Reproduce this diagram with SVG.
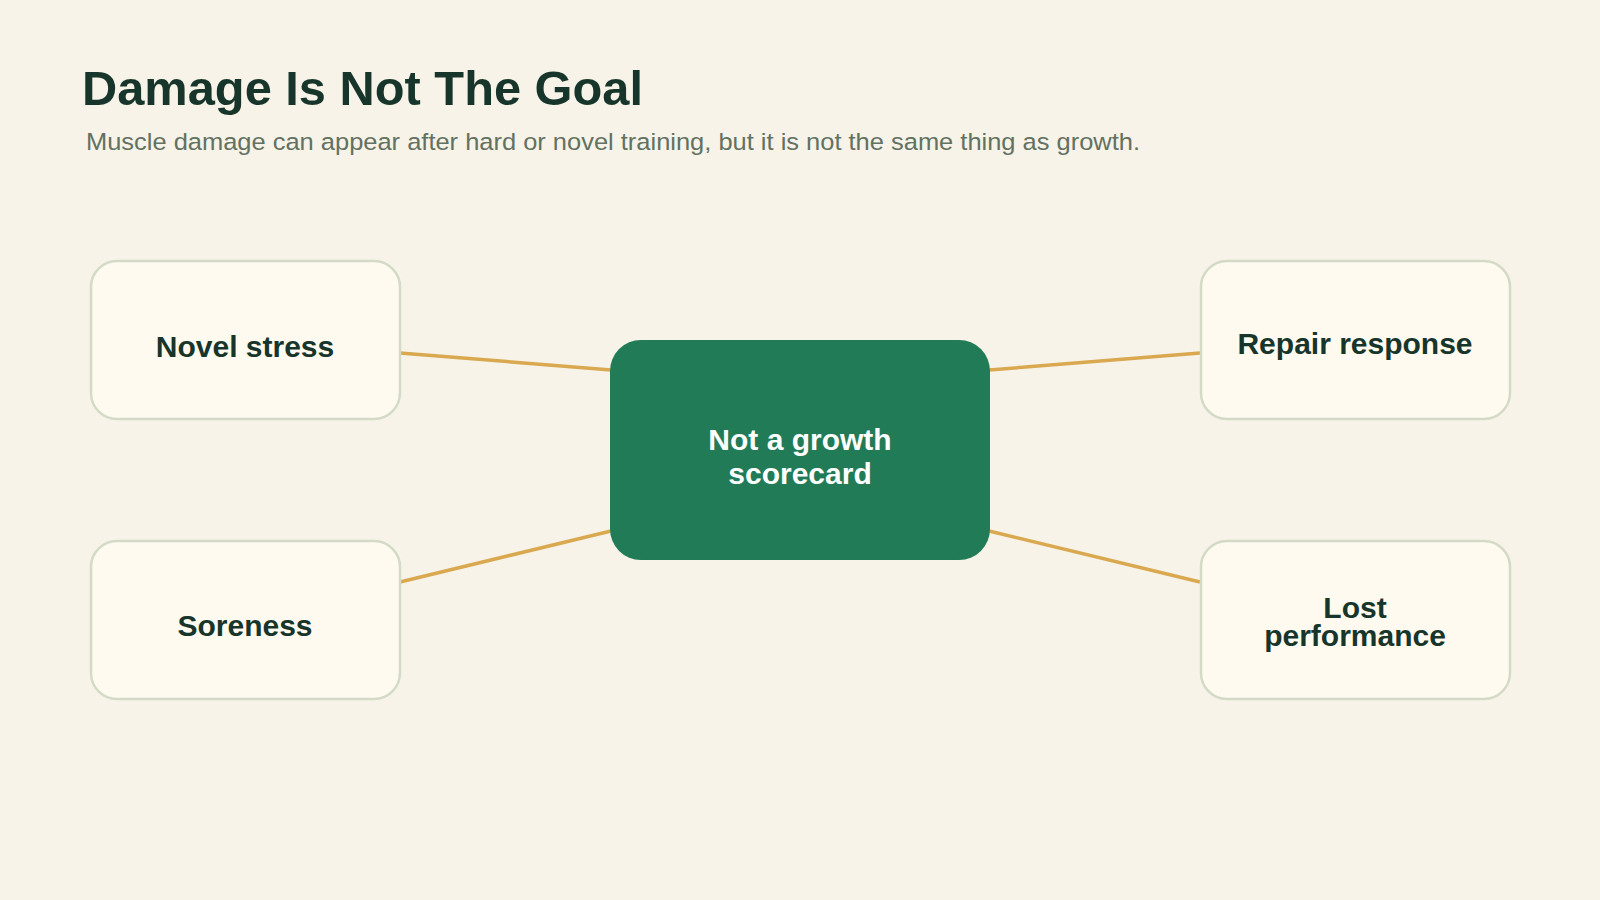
<svg xmlns="http://www.w3.org/2000/svg" width="1600" height="900" viewBox="0 0 1600 900">
  <style>
    .title { font-family: "Liberation Sans", Arial, sans-serif; font-weight: bold; font-size: 49px; fill: #17352a; }
    .subtitle { font-family: "Liberation Sans", Arial, sans-serif; font-size: 24.5px; fill: #627161; }
    .box { fill: #fffaef; stroke: #d3dbc7; stroke-width: 2.5; }
    .center-box { fill: #217b57; }
    .label { font-family: "Liberation Sans", Arial, sans-serif; font-weight: bold; font-size: 30px; fill: #17352a; text-anchor: middle; }
    .center-label { font-family: "Liberation Sans", Arial, sans-serif; font-weight: bold; font-size: 30px; fill: #ffffff; text-anchor: middle; }
    .conn { stroke: #d9a84f; stroke-width: 3.5; fill: none; }
  </style>
  <rect x="0" y="0" width="1600" height="900" fill="#f7f3e8"/>
  <text class="title" x="82" y="105" textLength="561" lengthAdjust="spacingAndGlyphs">Damage Is Not The Goal</text>
  <text class="subtitle" x="86" y="150" textLength="1054" lengthAdjust="spacingAndGlyphs">Muscle damage can appear after hard or novel training, but it is not the same thing as growth.</text>

  <g id="connectors">
    <line class="conn" x1="400" y1="353" x2="611" y2="370"/>
    <line class="conn" x1="400" y1="582" x2="611" y2="531"/>
    <line class="conn" x1="989" y1="370" x2="1200" y2="353"/>
    <line class="conn" x1="989" y1="531" x2="1200" y2="582"/>
  </g>

  <g id="node-novel-stress">
    <rect class="box" x="91" y="261" width="309" height="158" rx="26"/>
    <text class="label" x="245" y="357">Novel stress</text>
  </g>
  <g id="node-soreness">
    <rect class="box" x="91" y="541" width="309" height="158" rx="26"/>
    <text class="label" x="245" y="636">Soreness</text>
  </g>
  <g id="node-repair-response">
    <rect class="box" x="1201" y="261" width="309" height="158" rx="26"/>
    <text class="label" x="1355" y="354">Repair response</text>
  </g>
  <g id="node-lost-performance">
    <rect class="box" x="1201" y="541" width="309" height="158" rx="26"/>
    <text class="label" x="1355" y="618">Lost</text>
    <text class="label" x="1355" y="646">performance</text>
  </g>
  <g id="node-center">
    <rect class="center-box" x="610" y="340" width="380" height="220" rx="31"/>
    <text class="center-label" x="800" y="450">Not a growth</text>
    <text class="center-label" x="800" y="484">scorecard</text>
  </g>
</svg>
